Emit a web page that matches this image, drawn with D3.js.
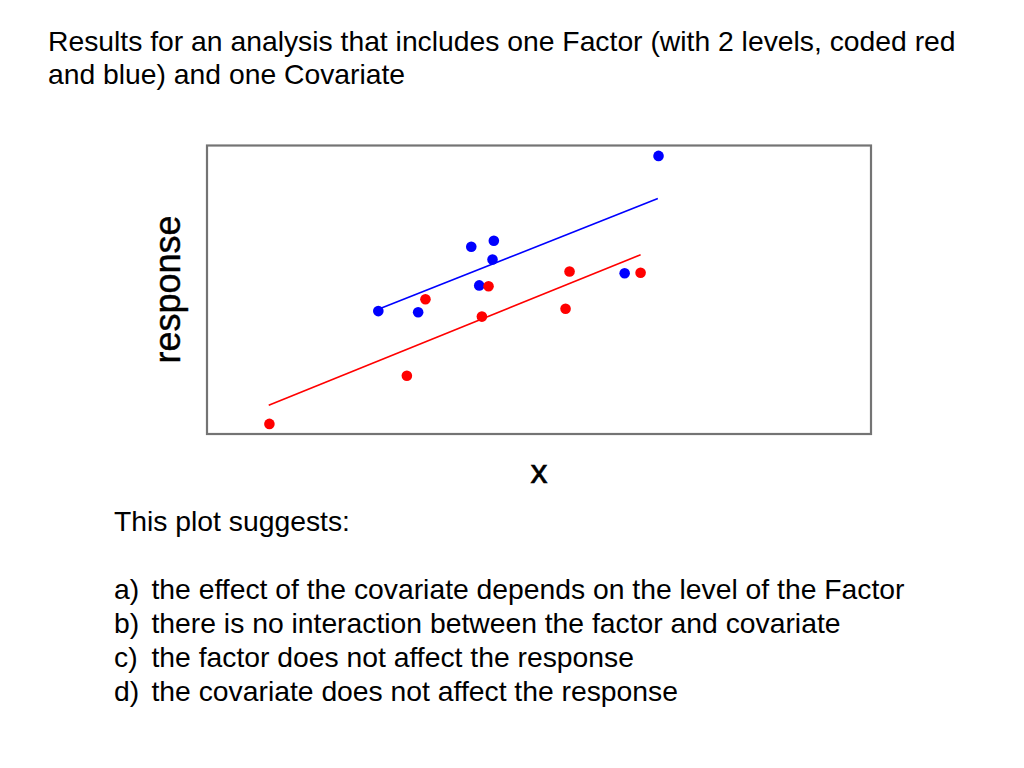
<!DOCTYPE html>
<html>
<head>
<meta charset="utf-8">
<script src="https://cdn.jsdelivr.net/npm/d3@7"></script>
<style>
  body { margin: 0; background: #fff; }
  text { font-family: "Liberation Sans", Arial, sans-serif; fill: #000; }
</style>
</head>
<body>
<svg id="chart" width="1024" height="768"></svg>
<script>
// values (x and response on a 0-100 scale)
const blueX = [25.8, 31.8, 39.8, 43.2, 43.0, 41.0, 62.9, 68.0];
const blueY = [42.6, 42.2, 64.9, 67.0, 60.5, 51.5, 55.7, 96.4];
const redX = [9.4, 30.1, 32.9, 41.4, 42.4, 54.6, 54.0, 65.3];
const redY = [3.5, 20.2, 46.7, 40.7, 51.2, 56.3, 43.4, 55.9];
// fitted lines: [x0, y0, x1, y1]
const blueFit = [25.8, 43.2, 67.9, 81.6];
const redFit = [9.3, 10.0, 65.3, 62.1];

const titleLines = [
  "Results for an analysis that includes one Factor (with 2 levels, coded red",
  "and blue) and one Covariate"
];
const question = "This plot suggests:";
const optionLabels = ["a)", "b)", "c)", "d)"];
const optionTexts = [
  "the effect of the covariate depends on the level of the Factor",
  "there is no interaction between the factor and covariate",
  "the factor does not affect the response",
  "the covariate does not affect the response"
];

const svg = d3.select("#chart");
const bodySize = "28.3px";

// title
svg.append("g").selectAll("text")
  .data(titleLines)
  .enter()
  .append("text")
  .attr("x", 48)
  .attr("y", (d, i) => 50.5 + i * 33.6)
  .attr("font-size", bodySize)
  .text(d => d);

// plot frame
const box = { x0: 207, x1: 871, y0: 145.5, y1: 434 };
const x = d3.scaleLinear().domain([0, 100]).range([box.x0, box.x1]);
const y = d3.scaleLinear().domain([0, 100]).range([box.y1, box.y0]);

svg.append("rect")
  .attr("x", box.x0)
  .attr("y", box.y0)
  .attr("width", box.x1 - box.x0)
  .attr("height", box.y1 - box.y0)
  .attr("fill", "none")
  .attr("stroke", "#747474")
  .attr("stroke-width", 2.2);

const drawGroup = (xs, ys, fit, color) => {
  const pts = xs.map((v, i) => [v, ys[i]]);
  svg.append("line")
    .attr("x1", x(fit[0]))
    .attr("y1", y(fit[1]))
    .attr("x2", x(fit[2]))
    .attr("y2", y(fit[3]))
    .attr("stroke", color)
    .attr("stroke-width", 1.6);
  svg.append("g").selectAll("circle")
    .data(pts)
    .enter()
    .append("circle")
    .attr("cx", d => x(d[0]))
    .attr("cy", d => y(d[1]))
    .attr("r", 5.3)
    .attr("fill", color);
};

drawGroup(blueX, blueY, blueFit, "#0000ff");
drawGroup(redX, redY, redFit, "#ff0000");

// axis titles
svg.append("text")
  .attr("x", 539)
  .attr("y", 483)
  .attr("font-size", "34px")
  .attr("text-anchor", "middle")
  .attr("stroke", "#000")
  .attr("stroke-width", 0.6)
  .text("x");

svg.append("text")
  .attr("transform", "translate(179.5,289.5) rotate(-90)")
  .attr("font-size", "36px")
  .attr("text-anchor", "middle")
  .attr("stroke", "#000")
  .attr("stroke-width", 0.4)
  .text("response");

// question
svg.append("text")
  .attr("x", 114)
  .attr("y", 530.5)
  .attr("font-size", bodySize)
  .text(question);

const opts = svg.append("g").selectAll("g")
  .data(optionTexts)
  .enter()
  .append("g")
  .attr("transform", (d, i) => `translate(0, ${598.5 + i * 34})`);

opts.append("text")
  .attr("x", 114)
  .attr("font-size", bodySize)
  .text((d, i) => optionLabels[i]);

opts.append("text")
  .attr("x", 151.5)
  .attr("font-size", bodySize)
  .text(d => d);
</script>
</body>
</html>
